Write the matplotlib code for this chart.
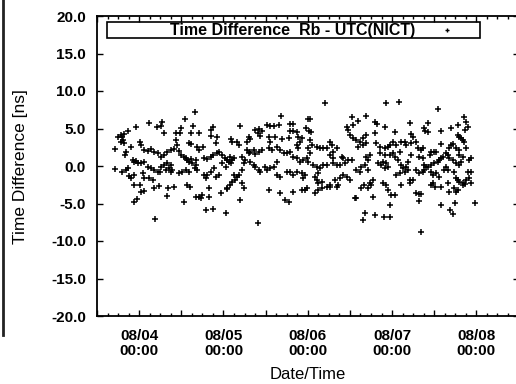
import numpy as np
import matplotlib
matplotlib.use("Agg")
import matplotlib.pyplot as plt
from matplotlib.patches import Rectangle
from matplotlib.lines import Line2D

# Hours since 08/04 00:00 and time difference [ns]
hours_a = [2.8,6.5,-0.9,5.1,6.3,-3.1,7.1,-5.1,-4.3,-4.8,
           -4.6,-4.3,-5.1,-6.8,-2.3,0.3,0.6,-3.7,-4.0,1.4,
           2.6,3.4,4.3,5.4,6.3,7.1,-1.7,-1.4,-0.9,-0.3,
           0.6,1.4,2.6,3.4,4.3,5.4,6.3,7.1,-6.8,-4.8,
           -3.7,-3.1,-2.8,-2.3,-1.4,1.1,1.4,2.8,4.0,-1.4,
           0.3,0.6,1.4,4.3,5.7,-1.4,-0.6,4.6,6.0,-5.9]
values_a = [5.7,5.9,5.2,5.2,5.3,4.7,4.4,4.1,4.3,3.9,
            3.5,3.1,3.2,2.3,2.5,3.2,2.8,1.9,1.5,2.1,
            2.0,2.3,1.9,1.7,1.2,1.5,0.8,0.5,0.7,0.4,
            0.4,0.5,-0.1,-0.3,-0.5,-0.8,-0.1,0.1,-0.4,-0.8,
            -0.5,-0.3,-1.3,-1.6,-1.2,-0.9,-1.6,-1.6,-1.9,-2.5,
            -2.5,-3.5,-3.3,-2.9,-2.7,-4.8,-4.4,-7.1,-0.8,3.9]

hours_b = [15.9,13.1,15.4,21.1,20.5,10.5,11.7,12.0,14.8,17.1,
           20.5,22.2,21.9,10.5,10.8,14.2,14.8,16.5,17.1,18.2,
           8.0,9.1,10.0,11.4,12.0,12.8,13.4,13.7,14.2,14.8,
           15.1,16.2,18.5,19.4,20.5,21.1,22.2,22.8,23.6,24.5,
           25.1,8.0,9.1,8.5,7.7,9.1,9.4,16.2,16.5,15.9,
           11.4,12.2,13.4,14.2,18.5,19.1,19.4,20.5,21.4,21.9,
           22.8,23.6,24.8,8.3,10.0,13.7,14.5,8.0,16.2,17.1,
           17.6,17.9,19.9,19.9,12.8,23.3,25.1,19.1,21.1,24.8]
values_b = [7.2,6.3,5.3,5.2,4.8,4.4,4.4,5.1,4.4,4.4,
            4.0,3.9,3.1,3.5,2.8,3.1,2.9,2.5,2.1,2.5,
            1.9,2.1,2.3,2.0,1.5,1.2,1.1,0.8,0.5,0.9,
            0.4,0.8,1.1,0.9,1.2,1.5,1.7,1.9,1.5,1.1,
            0.8,0.4,0.1,-0.3,-0.5,-0.8,-0.5,0.1,-0.5,-0.3,
            -0.9,-0.8,-0.5,-0.8,-1.2,-1.6,-1.2,-0.8,-0.3,-1.5,
            -1.2,0.4,-0.1,-2.9,-2.8,-2.5,-2.8,-4.0,-4.1,-4.1,
            -4.3,-3.9,-2.9,-4.1,-4.8,-3.6,-3.1,-5.9,-5.7,-6.3]

hours_c = [40.4,28.8,36.4,37.3,38.4,39.9,43.0,33.0,34.2,35.0,
           33.9,34.4,26.2,26.5,27.9,28.5,31.3,31.6,30.7,37.0,
           37.3,38.7,40.7,42.7,25.9,26.5,27.0,25.6,26.2,30.7,
           31.3,31.6,32.7,33.0,34.2,35.0,37.0,37.9,39.3,40.1,
           41.3,42.1,29.3,30.2,29.9,31.6,32.7,33.0,34.2,34.4,
           35.9,36.4,37.3,38.4,39.3,27.0,27.9,27.3,28.5,29.3,
           25.1,25.9,26.5,29.3,29.9,39.3,40.1,42.1,37.0,40.1,
           41.6,42.7,28.8,33.9]
values_c = [6.7,5.3,5.5,5.3,5.3,5.5,5.6,4.8,4.9,4.7,
            4.4,4.0,3.6,3.2,3.2,2.8,3.9,3.6,3.2,3.9,
            3.2,3.9,3.6,3.7,1.2,0.8,1.1,0.5,0.4,2.1,
            1.7,1.9,2.1,1.6,1.9,2.1,2.4,2.1,2.5,2.1,
            1.7,1.7,1.2,0.8,0.4,0.5,0.1,-0.1,-0.5,-0.8,
            -0.1,-0.5,-0.3,-0.1,0.5,-1.2,-1.5,-1.9,-1.2,-0.5,
            -2.9,-2.5,-2.1,-2.3,-2.9,-1.2,-1.5,-0.8,-3.2,-3.6,
            -4.5,-4.8,-4.5,-7.6]

hours_d = [53.0,48.2,48.7,43.8,60.6,60.9,59.2,47.6,48.4,49.0,
           43.0,43.8,45.0,59.5,60.1,45.3,46.4,45.8,45.0,45.3,
           48.7,49.3,48.1,48.7,54.4,55.0,56.4,55.2,54.4,55.2,
           50.7,51.5,52.4,53.5,43.0,43.8,45.0,45.8,46.7,47.8,
           48.1,57.8,58.1,59.5,60.6,58.7,57.2,56.4,55.2,49.5,
           50.7,51.5,52.4,53.5,50.9,43.0,43.8,45.0,46.4,47.3,
           46.7,50.1,50.7,50.9,52.1,54.4,55.8,57.2,58.1,59.2,
           60.1,53.5,54.4,56.4,56.6,43.8,46.4,47.3,47.8,50.1,
           50.9,52.1,61.5]
values_d = [8.4,6.3,6.3,5.6,6.5,5.5,5.2,5.1,4.7,4.5,
            4.7,4.7,4.5,4.8,4.1,3.9,3.7,3.2,2.8,2.4,
            3.5,2.8,2.4,1.7,3.2,2.8,2.4,1.9,1.5,1.1,
            2.5,2.4,2.4,2.4,1.9,1.2,1.1,0.5,0.8,1.1,
            0.5,1.2,1.1,0.8,0.8,0.4,0.1,0.1,0.4,0.1,
            -0.1,-0.3,0.1,0.1,-0.9,-0.8,-1.2,-0.8,-0.9,-1.2,
            -1.6,-1.5,-1.9,-2.3,-2.1,-2.5,-1.9,-1.6,-1.2,-1.5,
            -1.9,-2.8,-2.8,-2.8,-2.5,-3.5,-3.2,-3.2,-2.9,-3.6,
            -3.2,-2.9,-4.3]

hours_e = [70.3,74.0,64.6,62.3,67.2,67.8,70.0,72.9,77.1,77.4,
           78.0,60.9,61.8,62.9,63.8,64.6,64.6,62.3,63.8,67.2,
           67.5,68.6,70.0,70.9,71.5,72.3,73.2,74.6,75.7,76.0,
           77.4,64.6,65.8,65.2,68.6,70.0,71.5,72.3,72.9,74.3,
           68.0,68.9,69.5,70.3,70.9,70.0,73.7,74.6,75.2,76.0,
           76.6,77.4,61.8,62.9,63.2,64.3,65.2,73.2,74.3,75.7,
           76.6,77.1,78.0,66.6,65.8,66.0,65.2,63.2,64.0,69.5,
           70.3,74.6,77.1,70.9,71.7,72.9,61.8,66.6,71.5,64.3,
           63.8,67.2,69.8,71.5]
values_e = [8.4,8.5,6.7,6.0,5.9,5.6,5.2,4.5,5.7,4.3,
            3.9,3.7,3.5,3.2,3.7,4.1,3.1,2.5,2.8,4.4,
            3.1,2.5,2.4,2.5,2.8,3.2,2.8,3.2,3.2,2.8,
            3.1,1.2,1.5,0.8,1.7,1.5,1.5,1.7,1.2,1.9,
            0.4,0.1,0.5,0.4,-0.1,-0.3,0.8,0.1,-0.3,-0.1,
            0.5,1.5,-0.5,-0.8,-0.1,0.1,-0.5,-1.2,-0.9,-0.8,
            -0.5,-1.9,-1.9,-1.9,-2.3,-2.5,-2.9,-2.9,-2.5,-2.3,
            -2.5,-2.5,-2.3,-3.2,-3.9,-3.9,-4.3,-4.1,-5.2,-6.3,
            -7.2,-6.5,-6.8,-6.8]

hours_f = [85.1,82.3,81.1,81.4,82.3,86.0,88.8,90.8,92.5,93.1,
           93.7,92.8,90.8,91.1,91.7,92.2,92.5,78.9,79.5,80.3,
           80.9,79.7,80.9,86.0,84.6,84.0,83.1,82.9,81.1,81.7,
           88.3,88.8,89.4,90.3,91.1,93.1,94.0,94.5,86.6,86.0,
           85.4,85.1,84.0,83.1,82.3,87.4,88.0,88.3,89.4,90.3,
           91.1,91.7,91.1,92.2,78.9,79.7,80.9,81.1,83.1,83.7,
           84.6,85.4,87.4,88.0,86.9,89.7,90.3,90.8,91.1,92.2,
           93.1,94.0,93.7,94.5,94.5,83.7,83.1,84.3,86.0,88.0,
           88.3,89.7,90.3,90.8,92.2,92.8,78.9,79.7,80.3,79.7,
           86.0,88.5,89.4,89.9,95.6,80.3]
values_f = [7.6,5.7,5.1,4.7,4.5,4.7,5.1,5.5,6.5,5.9,
            5.2,4.8,4.1,3.9,3.7,3.5,3.2,3.2,2.4,2.1,
            2.4,1.2,1.1,2.9,1.9,1.9,1.9,1.5,0.1,-0.1,
            2.4,2.8,2.9,2.4,2.1,2.4,0.8,1.1,1.2,1.1,
            0.8,0.5,0.4,0.1,-0.1,1.7,1.5,1.1,0.8,0.4,
            0.1,0.5,1.5,1.2,-0.5,-0.9,-0.8,-0.5,-0.8,-1.2,
            -0.9,-1.5,-0.1,-0.5,-0.5,-0.8,-1.6,-1.9,-2.1,-2.3,
            -1.9,-1.6,-0.8,-0.8,-2.3,-2.3,-2.5,-2.8,-2.8,-2.3,
            -3.5,-2.9,-3.5,-3.2,-2.5,-2.4,-3.6,-3.7,-3.7,-4.7,
            -5.2,-5.9,-6.4,-4.9,-4.9,-8.8]

hour_lists = [hours_a, hours_b, hours_c, hours_d, hours_e, hours_f]
value_lists = [values_a, values_b, values_c, values_d, values_e, values_f]
for h, v in zip(hour_lists, value_lists):
    assert len(h) == len(v), (len(h), len(v))
hours = np.concatenate(hour_lists)
values = np.concatenate(value_lists)

x_range = (-12, 108)          # 08/03 12:00 .. 08/08 12:00
y_ticks = [-20, -15, -10, -5, 0, 5, 10, 15, 20]
first_day = 4
legend_label = "Time Difference  Rb - UTC(NICT)"
x_label = "Date/Time"
y_label = "Time Difference [ns]"

FONT = "Liberation Sans"
plt.rcParams["font.family"] = [FONT, "DejaVu Sans"]

fig = plt.figure(figsize=(5.16, 3.84), dpi=100)
fig.patch.set_facecolor("white")
ax = fig.add_axes([97 / 516, 68 / 384, 421.5 / 516, 300 / 384])

ax.plot(hours, values, linestyle="none", marker="+", color="black",
        markersize=4.2, markeredgewidth=1.1)

ax.set_xlim(*x_range)
ax.set_ylim(y_ticks[0], y_ticks[-1])

major_x = np.arange(x_range[0], x_range[1] + 1, 12)
ax.set_xticks(major_x)
ax.set_xticks(np.arange(x_range[0], x_range[1] + 1, 3), minor=True)
xlabels = []
for t in major_x:
    if t % 24 == 0 and x_range[0] < t < x_range[1]:
        xlabels.append("08/%02d\n00:00" % (first_day + t // 24))
    else:
        xlabels.append("")
ax.set_xticklabels(xlabels, fontsize=11, fontweight="bold", linespacing=1.15)
ax.set_yticks(y_ticks)
ax.set_yticklabels(["%.1f" % y for y in y_ticks], fontsize=11, fontweight="bold")

ax.tick_params(which="both", direction="in", top=True, right=True, width=1.0,
               colors="black")
ax.tick_params(which="major", length=4)
ax.tick_params(which="minor", length=2)
ax.tick_params(axis="x", which="major", pad=9)
ax.tick_params(axis="y", which="major", pad=8)
for s in ax.spines.values():
    s.set_linewidth(1.3)

ax.set_xlabel(x_label, fontsize=12)
ax.xaxis.set_label_coords(0.5, -0.17)
ax.set_ylabel(y_label, fontsize=12.5)
ax.yaxis.set_label_coords(-0.163, 0.497)

# legend box
ax.add_patch(Rectangle((0.024, 0.927), 0.885, 0.053, transform=ax.transAxes,
                       fill=False, edgecolor="black", linewidth=1.2, clip_on=False))
ax.text(0.463, 0.952, legend_label, transform=ax.transAxes, ha="center",
        va="center", fontsize=11.5, fontweight="bold")
ax.plot([0.830], [0.952], transform=ax.transAxes, linestyle="none", marker="+",
        color="black", markersize=3.5, markeredgewidth=1.0)

# scan edge line at the left of the page
fig.add_artist(Line2D([3 / 516, 3 / 516], [1.0, 1 - 335 / 384],
                      transform=fig.transFigure, color="#222222", linewidth=2))

fig.savefig("out.png", dpi=100, facecolor="white")
